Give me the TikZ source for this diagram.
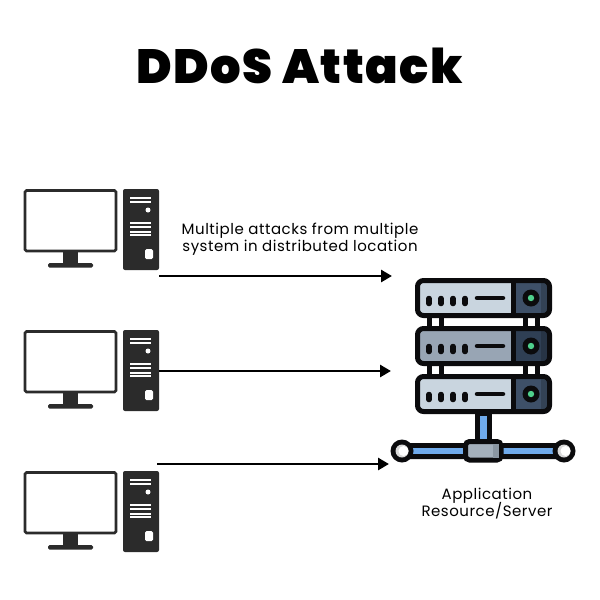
\documentclass[tikz,border=0pt]{standalone}
\usepackage{fontspec}
\setmainfont{Poppins}
\newfontfamily\titlefont{Poppins Black}
\usetikzlibrary{arrows.meta}
\definecolor{pcblack}{HTML}{2B2B2B}
\definecolor{sblack}{HTML}{0B0B0D}
\definecolor{rackA}{HTML}{C9D5DF}
\definecolor{rackB}{HTML}{98A5B4}
\definecolor{panelA}{HTML}{3E5068}
\definecolor{panelB}{HTML}{2F3F54}
\definecolor{led}{HTML}{4FD08C}
\definecolor{pipe}{HTML}{6FAAEB}
\definecolor{hub}{HTML}{A4B0BC}
\definecolor{hubdark}{HTML}{8B97A3}
\definecolor{knob}{HTML}{D9D9D9}
\tikzset{
  x=1pt,y=-1pt,
  lbl/.style={font=\fontsize{15}{17}\selectfont\addfontfeatures{LetterSpace=3.5},anchor=base,text=black,inner sep=0pt},
  attack/.style={draw=black,line width=2.8pt,-{Triangle[length=11pt,width=12pt]}},
  slat/.style={white,line width=1.3pt},
  outline/.style={draw=sblack,line width=5pt,line join=round}
}
\newcommand{\computer}[1]{%
  \begin{scope}[shift={(0,#1)}]
    \draw[pcblack,line width=2.8pt,fill=white,rounded corners=1.5pt] (25,190.5) rectangle (116,251);
    \fill[pcblack] (63,251) rectangle (78,265);
    \fill[pcblack,rounded corners=1.5pt] (48,263) rectangle (93,267.5);
    \fill[pcblack,rounded corners=2pt] (123,189) rectangle (159,270);
    \foreach \yy in {198,202,223,227,232,235} \draw[slat] (130,\yy) -- (151,\yy);
    \fill[white] (148,210) circle (2.5);
    \fill[white,rounded corners=1.5pt] (145,249) rectangle (153,259);
  \end{scope}}
\newcommand{\rack}[3]{%
  \begin{scope}[shift={(0,#1)}]
    \fill[#2,rounded corners=3pt] (417,280) rectangle (514,316);
    \fill[#3,rounded corners=3pt] (513,280) rectangle (550,316);
    \fill[#3!82!black] (541,281) rectangle (547,315);
    \draw[outline,rounded corners=6pt] (417.5,280.5) rectangle (549.5,315.5);
    \draw[sblack,line width=5pt] (513,280) -- (513,316);
    \fill[sblack] (531,298) circle (8.5);
    \fill[led] (531,298) circle (3.2);
    \foreach \xx in {429,441,453,465} \draw[sblack,line width=5.5pt,line cap=round] (\xx,298.5) -- (\xx,303.5);
    \draw[sblack,line width=4.5pt,line cap=round] (477,298) -- (503,298);
  \end{scope}}
\begin{document}
\begin{tikzpicture}
\useasboundingbox (0,0) rectangle (600,600);
\fill[white] (0,0) rectangle (600,600);
\node[inner sep=0pt,font=\fontsize{48}{50}\titlefont\addfontfeatures{LetterSpace=3}] (title) at (299.5,66) {DDoS Attack};
\computer{0}\computer{141}\computer{282}
% server
\foreach \xx in {429,441,525,537} {
  \draw[sblack,line width=5pt] (\xx,316) -- (\xx,328);
  \draw[sblack,line width=5pt] (\xx,364) -- (\xx,376);
}
\rack{0}{rackA}{panelA}
\rack{48}{rackB}{panelB}
\rack{96}{rackA}{panelA}
% network
\fill[sblack] (475,412) rectangle (492,442);
\fill[pipe] (480,416) rectangle (487,440);
\fill[sblack,rounded corners=3pt] (402,443) rectangle (564,459);
\fill[pipe] (412,448) rectangle (555,454);
\fill[sblack] (402,451) circle (11.5);
\fill[sblack] (564,451) circle (11.5);
\fill[knob] (402,451) circle (6.5);
\fill[white] (403.5,451) circle (5);
\fill[knob] (564,451) circle (6.5);
\fill[white] (565.5,451) circle (5);
\draw[sblack,fill=hub,line width=5pt,rounded corners=4pt] (465.5,441.5) rectangle (501,460);
\fill[hubdark] (493,444) rectangle (498.5,457.5);
% labels
\node[lbl] (attacksA) at (300,234) {Multiple attacks from multiple};
\node[lbl] (attacksB) at (300,251) {system in distributed location};
\node[lbl] (serverA) at (487,499) {Application};
\node[lbl] (serverB) at (487,516) {Resource/Server};
% connectors
\coordinate (s1) at (159,276); \coordinate (e1) at (392,276);
\coordinate (s2) at (159,371); \coordinate (e2) at (391,371);
\coordinate (s3) at (157,464); \coordinate (e3) at (389,464);
\draw[attack] (s1) -- (e1);
\draw[attack] (s2) -- (e2);
\draw[attack] (s3) -- (e3);
\end{tikzpicture}
\end{document}
